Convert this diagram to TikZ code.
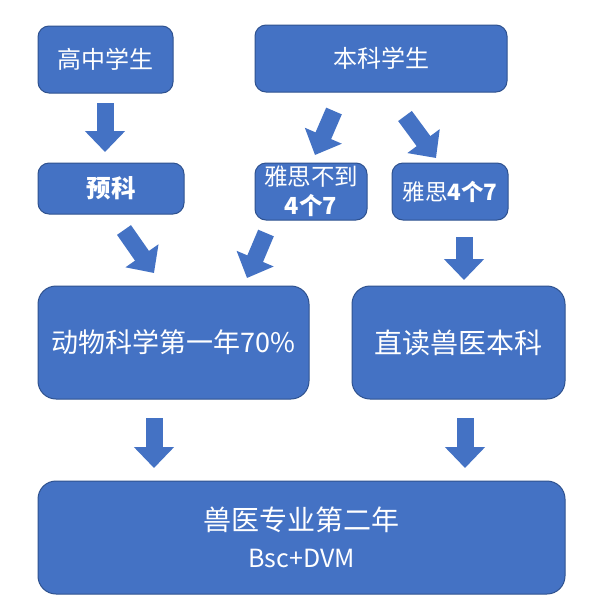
\documentclass[tikz,border=0pt]{standalone}
\usepackage{fontspec}
\setmainfont{Noto Sans CJK SC}
\usetikzlibrary{arrows.meta,calc}
\definecolor{boxblue}{HTML}{4472C4}
\definecolor{edgeblue}{HTML}{2F528F}
\begin{document}
\begin{tikzpicture}[x=1pt,y=-1pt,
  box/.style={draw=edgeblue, line width=1pt, fill=boxblue, text=white, align=center, inner sep=0pt, rounded corners=11pt},
  bigbox/.style={box, rounded corners=18pt},
  blockarrow/.style={draw=boxblue, line width=17pt, -{Triangle[length=21pt,width=39pt]}}
]
\useasboundingbox[fill=white] (0,0) rectangle (605,598);

\node[box, minimum width=135pt, minimum height=67pt, font=\fontsize{24}{28}\selectfont] (hs) at (105.5,59.5) {高中学生};
\node[box, minimum width=252pt, minimum height=67pt, font=\fontsize{24}{28}\selectfont] (bk) at (381,58.5) {本科学生};
\node[box, minimum width=146pt, minimum height=51pt, font=\fontsize{24.5}{28}\selectfont\bfseries] (yk) at (111,188.5) {预科};
\node[box, minimum width=112pt, minimum height=57pt, font=\fontsize{23.5}{29}\selectfont] (ie1) at (311,191.5) {雅思不到\\\textbf{4个7}};
\node[box, minimum width=116pt, minimum height=57pt, font=\fontsize{22.5}{27}\selectfont] (ie2) at (450,191.5) {雅思\textbf{4个7}};
\node[bigbox, minimum width=271pt, minimum height=113pt, font=\fontsize{27}{32}\selectfont] (dw) at (173.5,342.5) {动物科学第一年70\%};
\node[bigbox, minimum width=213pt, minimum height=113pt, font=\fontsize{28}{32}\selectfont] (zd) at (458.5,342.5) {直读兽医本科};
\node[bigbox, minimum width=527pt, minimum height=113pt, font=\fontsize{28}{32}\selectfont] (vet) at (301.5,537.5) {\raisebox{-1pt}{兽医专业第二年}\\[6pt]{\fontsize{25}{28}\selectfont Bsc+DVM}};

\coordinate (a1s) at (105,103); \coordinate (a1e) at (105,152);
\coordinate (a2s) at (334,111); \coordinate (a2e) at (315,155);
\coordinate (a3s) at (405,116); \coordinate (a3e) at (436,158);
\coordinate (a4s) at (464,237); \coordinate (a4e) at (464,280);
\coordinate (a5s) at (124,230); \coordinate (a5e) at (154,273);
\coordinate (a6s) at (266,233); \coordinate (a6e) at (247,278);
\coordinate (a7s) at (154,418); \coordinate (a7e) at (154,468);
\coordinate (a8s) at (465,418); \coordinate (a8e) at (465,468);

\draw[blockarrow] (a1s) -- (a1e);
\draw[blockarrow] (a2s) -- (a2e);
\draw[blockarrow] (a3s) -- (a3e);
\draw[blockarrow] (a4s) -- (a4e);
\draw[blockarrow] (a5s) -- (a5e);
\draw[blockarrow] (a6s) -- (a6e);
\draw[blockarrow] (a7s) -- (a7e);
\draw[blockarrow] (a8s) -- (a8e);
\end{tikzpicture}
\end{document}
